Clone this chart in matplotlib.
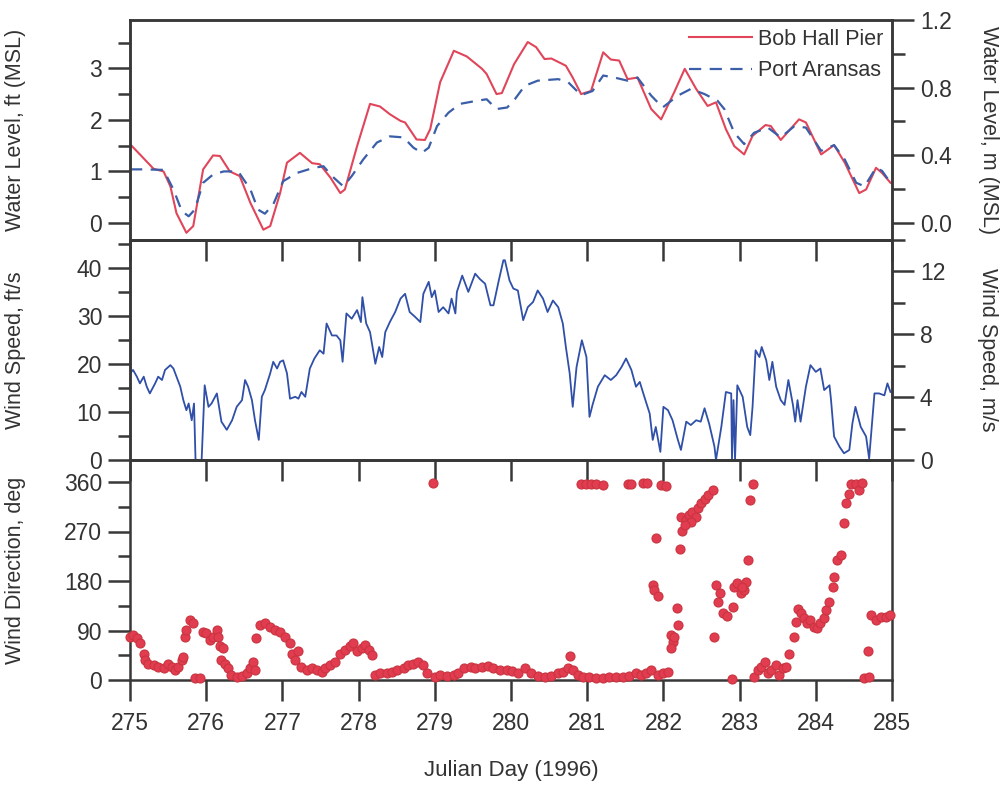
import matplotlib.pyplot as plt
from matplotlib.ticker import MultipleLocator, FormatStrFormatter

plt.rcParams['font.family'] = ['Liberation Sans', 'DejaVu Sans']

FT_TO_M = 0.3048

# water level, ft (MSL)
bob_day = [275.00, 275.13, 275.31, 275.44, 275.53, 275.61, 275.74, 275.83, 275.96, 276.09,
           276.18, 276.31, 276.44, 276.58, 276.75, 276.84, 276.97, 277.06, 277.23, 277.39,
           277.49, 277.63, 277.76, 277.82, 277.98, 278.15, 278.28, 278.41, 278.55, 278.61,
           278.76, 278.87, 278.94, 279.07, 279.25, 279.42, 279.62, 279.68, 279.81, 279.88,
           280.04, 280.22, 280.33, 280.44, 280.53, 280.72, 280.81, 280.92, 281.05, 281.21,
           281.31, 281.42, 281.53, 281.66, 281.84, 281.97, 282.14, 282.28, 282.43, 282.58,
           282.69, 282.82, 282.93, 283.06, 283.17, 283.34, 283.41, 283.54, 283.78, 283.87,
           284.07, 284.24, 284.38, 284.57, 284.66, 284.79, 284.87, 284.98]
bob_ft = [1.53, 1.33, 1.05, 1.00, 0.71, 0.19, -0.19, -0.06, 1.04, 1.31,
          1.30, 1.00, 0.91, 0.39, -0.13, -0.06, 0.58, 1.17, 1.36, 1.16,
          1.14, 0.88, 0.58, 0.65, 1.49, 2.31, 2.26, 2.11, 1.98, 1.95,
          1.62, 1.61, 1.82, 2.73, 3.34, 3.23, 2.99, 2.89, 2.50, 2.52,
          3.08, 3.51, 3.41, 3.18, 3.19, 3.05, 2.82, 2.50, 2.56, 3.31,
          3.17, 3.15, 2.79, 2.82, 2.21, 2.01, 2.53, 2.99, 2.60, 2.27,
          2.34, 1.82, 1.49, 1.33, 1.69, 1.90, 1.88, 1.61, 2.01, 1.95,
          1.33, 1.51, 1.17, 0.58, 0.65, 1.07, 0.97, 0.78]

pa_day = [275.00, 275.18, 275.44, 275.57, 275.68, 275.77, 275.85, 275.96, 276.09, 276.23,
          276.42, 276.58, 276.68, 276.77, 276.88, 277.01, 277.19, 277.41, 277.54, 277.65,
          277.80, 277.91, 278.06, 278.24, 278.41, 278.59, 278.72, 278.83, 278.92, 279.03,
          279.18, 279.33, 279.55, 279.68, 279.81, 279.95, 280.05, 280.18, 280.35, 280.62,
          280.75, 280.92, 281.07, 281.21, 281.36, 281.53, 281.66, 281.84, 281.99, 282.19,
          282.36, 282.54, 282.71, 282.80, 282.93, 283.06, 283.19, 283.37, 283.54, 283.72,
          283.87, 284.07, 284.24, 284.38, 284.53, 284.64, 284.79, 284.87, 284.98]
pa_ft = [1.04, 1.04, 1.03, 0.65, 0.23, 0.13, 0.26, 0.78, 0.94, 1.00,
         1.00, 0.65, 0.26, 0.18, 0.36, 0.81, 0.97, 1.07, 1.10, 0.91,
         0.71, 0.91, 1.23, 1.56, 1.68, 1.66, 1.46, 1.36, 1.46, 1.88,
         2.14, 2.31, 2.37, 2.40, 2.21, 2.24, 2.40, 2.66, 2.76, 2.79,
         2.73, 2.48, 2.56, 2.86, 2.82, 2.76, 2.82, 2.47, 2.24, 2.47,
         2.60, 2.50, 2.37, 2.21, 1.75, 1.53, 1.75, 1.85, 1.66, 1.88,
         1.85, 1.40, 1.51, 1.23, 0.78, 0.71, 1.07, 1.01, 0.78]

# wind speed, ft/s
wind_day = [275.00, 275.04, 275.09, 275.13, 275.18, 275.22, 275.26, 275.33, 275.37, 275.42,
            275.46, 275.53, 275.57, 275.61, 275.66, 275.70, 275.74, 275.77, 275.81, 275.84,
            275.86, 275.94, 275.98, 276.03, 276.07, 276.14, 276.20, 276.27, 276.34, 276.40,
            276.47, 276.51, 276.55, 276.60, 276.64, 276.69, 276.73, 276.77, 276.84, 276.88,
            276.93, 276.97, 277.01, 277.06, 277.10, 277.17, 277.21, 277.25, 277.30, 277.36,
            277.42, 277.49, 277.54, 277.58, 277.65, 277.71, 277.76, 277.79, 277.84, 277.91,
            277.98, 278.03, 278.05, 278.10, 278.15, 278.22, 278.27, 278.31, 278.35, 278.41,
            278.48, 278.55, 278.61, 278.67, 278.74, 278.81, 278.85, 278.92, 278.96, 279.00,
            279.05, 279.11, 279.18, 279.22, 279.27, 279.29, 279.36, 279.44, 279.53, 279.59,
            279.66, 279.73, 279.77, 279.84, 279.90, 279.92, 279.98, 280.03, 280.09, 280.16,
            280.22, 280.29, 280.35, 280.42, 280.48, 280.55, 280.62, 280.68, 280.72, 280.77,
            280.81, 280.86, 280.93, 280.99, 281.03, 281.07, 281.14, 281.23, 281.31, 281.38,
            281.45, 281.51, 281.58, 281.64, 281.69, 281.75, 281.82, 281.86, 281.90, 281.96,
            282.00, 282.06, 282.12, 282.19, 282.23, 282.30, 282.36, 282.43, 282.49, 282.54,
            282.60, 282.67, 282.69, 282.76, 282.82, 282.89, 282.90, 282.92, 282.94, 282.97,
            283.04, 283.10, 283.14, 283.17, 283.21, 283.26, 283.29, 283.35, 283.39, 283.43,
            283.48, 283.54, 283.59, 283.64, 283.70, 283.73, 283.76, 283.80, 283.87, 283.93,
            284.00, 284.06, 284.11, 284.18, 284.20, 284.24, 284.31, 284.37, 284.44, 284.48,
            284.52, 284.59, 284.66, 284.70, 284.77, 284.83, 284.90, 284.94, 284.98]
wind_fts = [18.1, 18.8, 17.4, 16.0, 17.4, 15.3, 13.9, 16.0, 17.4, 16.7,
            18.8, 19.8, 19.1, 17.4, 15.3, 12.5, 10.4, 11.8, 8.3, 11.8,
            0.0, 0.0, 15.6, 11.1, 11.8, 13.9, 8.0, 6.3, 8.3, 11.1,
            12.5, 16.7, 15.3, 12.5, 8.3, 4.2, 13.2, 14.6, 18.1, 20.5,
            19.1, 20.5, 20.8, 18.1, 12.8, 13.2, 12.8, 14.2, 13.2, 19.1,
            21.2, 22.9, 22.2, 28.5, 26.0, 26.0, 25.0, 20.5, 30.6, 29.5,
            31.3, 28.8, 34.0, 28.5, 26.7, 20.1, 23.6, 21.5, 26.7, 28.8,
            30.9, 33.7, 34.7, 30.9, 29.9, 28.8, 34.7, 37.2, 34.0, 35.4,
            30.9, 31.9, 30.6, 33.7, 30.6, 35.1, 38.5, 35.1, 38.9, 37.8,
            36.8, 32.3, 32.3, 37.5, 41.7, 41.7, 37.5, 35.8, 35.4, 29.2,
            31.9, 33.0, 35.4, 33.7, 30.9, 33.3, 31.9, 28.5, 23.6, 18.1,
            11.1, 19.4, 25.0, 21.5, 9.0, 11.5, 15.3, 17.7, 16.7, 17.7,
            19.4, 21.2, 18.8, 15.3, 16.3, 13.2, 9.7, 4.2, 6.9, 1.7,
            11.1, 10.4, 8.3, 4.2, 2.1, 8.0, 7.3, 8.3, 8.0, 10.8,
            7.6, 2.8, 0.0, 6.9, 14.2, 13.9, 0.0, 12.5, 0.0, 15.6,
            13.2, 6.9, 5.2, 11.1, 22.9, 21.5, 23.6, 20.8, 16.7, 20.5,
            15.3, 12.5, 11.5, 16.7, 11.5, 8.0, 12.5, 8.0, 15.3, 19.8,
            18.4, 19.1, 14.6, 15.6, 12.5, 4.9, 2.8, 1.4, 2.1, 7.6,
            11.1, 6.9, 4.9, 0.3, 13.9, 13.9, 13.5, 16.0, 14.2]

# wind direction, deg
dir_day = [275.00, 275.04, 275.09, 275.13, 275.18, 275.20, 275.24, 275.31, 275.37, 275.44,
           275.50, 275.55, 275.59, 275.63, 275.68, 275.70, 275.72, 275.74, 275.79, 275.83,
           275.85, 275.92, 275.96, 276.00, 276.05, 276.09, 276.14, 276.16, 276.18, 276.22,
           276.20, 276.25, 276.29, 276.33, 276.40, 276.47, 276.53, 276.58, 276.62, 276.64,
           276.66, 276.71, 276.77, 276.84, 276.90, 276.97, 277.03, 277.10, 277.12, 277.17,
           277.21, 277.25, 277.32, 277.39, 277.45, 277.52, 277.56, 277.63, 277.69, 277.76,
           277.82, 277.89, 277.93, 277.98, 278.04, 278.09, 278.13, 278.17, 278.22, 278.28,
           278.37, 278.44, 278.50, 278.59, 278.65, 278.72, 278.78, 278.85, 278.90, 278.98,
           279.00, 279.07, 279.16, 279.25, 279.31, 279.38, 279.47, 279.53, 279.62, 279.70,
           279.77, 279.86, 279.95, 280.01, 280.09, 280.18, 280.26, 280.35, 280.44, 280.53,
           280.62, 280.68, 280.75, 280.78, 280.81, 280.88, 280.94, 281.03, 281.12, 281.21,
           281.29, 281.38, 281.47, 281.55, 281.64, 281.71, 281.77, 281.84, 281.93, 281.99,
           282.06, 280.92, 280.99, 281.05, 281.12, 281.21, 281.53, 281.58, 281.73, 281.79,
           281.97, 282.03, 281.90, 281.86, 281.88, 281.93, 282.10, 282.12, 282.10, 282.14,
           282.19, 282.18, 282.22, 282.25, 282.23, 282.30, 282.34, 282.38, 282.43, 282.45,
           282.49, 282.54, 282.58, 282.65, 282.36, 282.28, 282.66, 282.69, 282.74, 282.71,
           282.78, 282.83, 282.91, 282.93, 282.97, 283.02, 283.06, 283.08, 283.03, 283.11,
           283.14, 283.17, 282.90, 283.19, 283.24, 283.28, 283.33, 283.37, 283.41, 283.48,
           283.52, 283.57, 283.61, 283.65, 283.72, 283.74, 283.76, 283.80, 283.85, 283.89,
           283.93, 283.98, 284.02, 284.06, 284.11, 284.13, 284.17, 284.22, 284.24, 284.28,
           284.33, 284.37, 284.39, 284.44, 284.46, 284.53, 284.57, 284.61, 284.68, 284.63,
           284.70, 284.72, 284.79, 284.85, 284.92, 284.98]
dir_deg = [79, 82, 76, 67, 48, 36, 30, 27, 24, 21,
           30, 24, 18, 24, 36, 42, 79, 91, 109, 103,
           3, 3, 88, 85, 73, 79, 91, 79, 61, 58,
           36, 30, 21, 9, 6, 7, 12, 21, 33, 18,
           76, 100, 103, 97, 91, 88, 79, 67, 48, 36,
           52, 24, 18, 21, 18, 15, 21, 27, 33, 48,
           55, 61, 67, 52, 58, 64, 55, 45, 9, 12,
           12, 15, 18, 21, 27, 30, 32, 27, 12, 359,
           6, 9, 7, 9, 12, 21, 24, 21, 23, 25,
           21, 19, 18, 17, 12, 21, 12, 7, 5, 7,
           12, 15, 21, 44, 18, 9, 6, 5, 3, 3,
           5, 6, 5, 7, 12, 9, 12, 19, 9, 12,
           15, 357, 357, 356, 356, 355, 357, 357, 359, 359,
           355, 353, 258, 173, 164, 152, 82, 70, 58, 79,
           100, 131, 238, 271, 297, 291, 300, 306, 297, 312,
           321, 330, 336, 345, 288, 282, 79, 173, 158, 141,
           121, 116, 133, 170, 176, 158, 164, 179, 170, 218,
           327, 357, 1, 6, 18, 24, 33, 12, 18, 27,
           9, 21, 24, 48, 79, 106, 130, 121, 112, 103,
           109, 97, 94, 103, 112, 127, 142, 170, 188, 218,
           227, 285, 321, 339, 356, 357, 345, 359, 52, 3,
           6, 118, 109, 115, 115, 118]

SPINE = '#383838'
TEXT = '#333333'
RED = '#e0455a'
BLUE = '#2f4fa8'
TICK_SIZE = 16.5
LABEL_SIZE = 15.5

fig = plt.figure(figsize=(10.05, 7.87), dpi=100)
left, width = 130 / 1005, 762 / 1005
height = 220 / 787
ax_wl = fig.add_axes([left, 1 - 240 / 787, width, height])
ax_ws = fig.add_axes([left, 1 - 460 / 787, width, height], sharex=ax_wl)
ax_wd = fig.add_axes([left, 1 - 680 / 787, width, height], sharex=ax_wl)


def style_axis(ax):
    ax.set_facecolor('none')
    for sp in ax.spines.values():
        sp.set_color(SPINE)
        sp.set_linewidth(1.8)
    ax.tick_params(which='both', direction='out', color=SPINE, width=1.8,
                   labelsize=TICK_SIZE, labelcolor=TEXT)
    ax.tick_params(which='major', length=16, pad=4)
    ax.tick_params(which='minor', length=9)


for ax in (ax_wl, ax_ws, ax_wd):
    style_axis(ax)
    ax.set_xlim(275, 285)
    ax.xaxis.set_major_locator(MultipleLocator(1))
    ax.tick_params(axis='x', which='major', length=15)

ax_wl.tick_params(axis='x', labelbottom=False)
ax_ws.tick_params(axis='x', labelbottom=False)

# water level
ax_wl.plot(bob_day, bob_ft, color=RED, lw=1.5, label='Bob Hall Pier')
ax_wl.plot(pa_day, pa_ft, color='#3b5ea8', lw=1.6, dashes=(5.5, 3.8), label='Port Aransas')
ax_wl.set_ylim(-0.33, 1.2 / FT_TO_M)
ax_wl.yaxis.set_major_locator(MultipleLocator(1))
ax_wl.yaxis.set_minor_locator(MultipleLocator(0.5))
ax_wl.set_ylabel('Water Level, ft (MSL)', fontsize=LABEL_SIZE, color=TEXT)
ax_wl.yaxis.set_label_coords(-0.1365, 0.5)
leg = ax_wl.legend(loc='upper right', bbox_to_anchor=(1.0, 1.0), frameon=False,
                   fontsize=LABEL_SIZE, handlelength=2.9, handletextpad=0.3,
                   labelspacing=0.5, borderpad=0.4, borderaxespad=0.0)
for t in leg.get_texts():
    t.set_color(TEXT)

ax_wl_m = ax_wl.twinx()
style_axis(ax_wl_m)
ax_wl_m.set_ylim(-0.33 * FT_TO_M, 1.2)
ax_wl_m.yaxis.set_major_locator(MultipleLocator(0.4))
ax_wl_m.yaxis.set_minor_locator(MultipleLocator(0.2))
ax_wl_m.yaxis.set_major_formatter(FormatStrFormatter('%.1f'))
ax_wl_m.set_ylabel('Water Level, m (MSL)', fontsize=LABEL_SIZE, color=TEXT,
                   rotation=-90, va='center', ha='center')
ax_wl_m.yaxis.set_label_coords(1.127, 0.5)

# wind speed
ax_ws.plot(wind_day, wind_fts, color=BLUE, lw=1.3)
ax_ws.set_ylim(0, 14 / FT_TO_M)
ax_ws.yaxis.set_major_locator(MultipleLocator(10))
ax_ws.yaxis.set_minor_locator(MultipleLocator(5))
ax_ws.set_ylabel('Wind Speed, ft/s', fontsize=LABEL_SIZE, color=TEXT)
ax_ws.yaxis.set_label_coords(-0.1365, 0.5)

ax_ws_m = ax_ws.twinx()
style_axis(ax_ws_m)
ax_ws_m.set_ylim(0, 14)
ax_ws_m.yaxis.set_major_locator(MultipleLocator(4))
ax_ws_m.yaxis.set_minor_locator(MultipleLocator(2))
ax_ws_m.set_ylabel('Wind Speed, m/s', fontsize=LABEL_SIZE, color=TEXT,
                   rotation=-90, va='center', ha='center')
ax_ws_m.yaxis.set_label_coords(1.125, 0.5)

# wind direction
ax_wd.plot(dir_day, dir_deg, 'o', ms=6.5, mfc='#e23c50', mec='#c9343f', mew=0.8,
           clip_on=False, zorder=3)
ax_wd.set_ylim(0, 400)
ax_wd.yaxis.set_major_locator(MultipleLocator(90))
ax_wd.yaxis.set_minor_locator(MultipleLocator(45))
ax_wd.set_ylabel('Wind Direction, deg', fontsize=LABEL_SIZE, color=TEXT)
ax_wd.yaxis.set_label_coords(-0.1365, 0.5)
ax_wd.set_xlabel('Julian Day (1996)', fontsize=LABEL_SIZE + 0.5, color=TEXT, va='center')
ax_wd.xaxis.set_label_coords(0.5, -0.41)
ax_wd.tick_params(axis='x', pad=8)

fig.savefig('out.png', dpi=100, facecolor='white')
